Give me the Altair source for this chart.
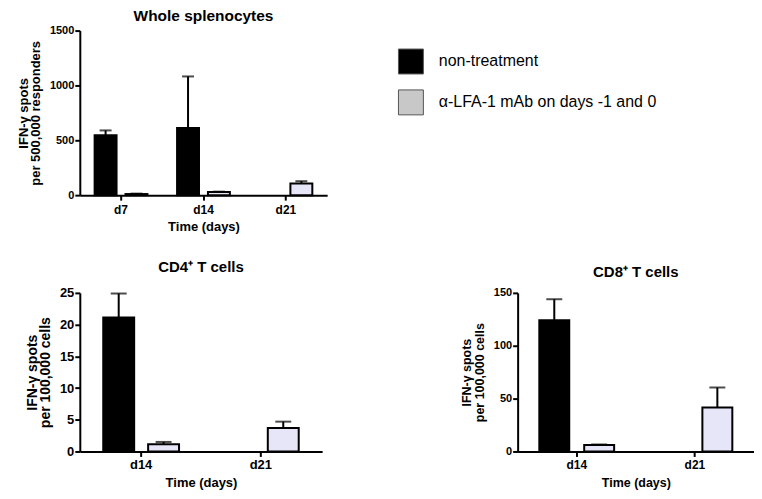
import altair as alt
import pandas as pd

GROUPS = ["non-treatment", "α-LFA-1 mAb on days -1 and 0"]
BAR_COLORS = ["#000000", "#E6E6F8"]
LEGEND_COLORS = ["#000000", "#C8C8C8"]

# Whole splenocytes
top_days = ["d7", "d14", "d21"]
top_nt = [545, 612, 0]
top_nt_err = [45, 470, 0]
top_lfa = [10, 28, 106]
top_lfa_err = [4, 4, 21]

# CD4+ T cells
cd4_days = ["d14", "d21"]
cd4_nt = [21.1, 0]
cd4_nt_err = [3.8, 0]
cd4_lfa = [1.15, 3.7]
cd4_lfa_err = [0.35, 1.0]

# CD8+ T cells
cd8_days = ["d14", "d21"]
cd8_nt = [124, 0]
cd8_nt_err = [20, 0]
cd8_lfa = [6, 41.5]
cd8_lfa_err = [0.6, 19]

FONT = "Liberation Sans"


def make_df(days, nt, nt_err, lfa, lfa_err):
    rows = []
    for d, v, e in zip(days, nt, nt_err):
        rows.append({"day": d, "group": GROUPS[0], "value": v, "err": e, "upper": v + e})
    for d, v, e in zip(days, lfa, lfa_err):
        rows.append({"day": d, "group": GROUPS[1], "value": v, "err": e, "upper": v + e})
    return pd.DataFrame(rows)


def panel(df, days, title, title_size, title_offset, ytitle, yvals, w, h, x_outer,
          off_inner, off_outer, cap, fs):
    x = alt.X("day:N", sort=days,
              scale=alt.Scale(domain=days, paddingInner=0, paddingOuter=x_outer),
              axis=alt.Axis(title="Time (days)", labelAngle=0, labelFontSize=fs["xl"],
                            labelPadding=fs["xlp"], titlePadding=fs["xtp"],
                            titleFontSize=fs["xt"]))
    xo = alt.XOffset("group:N", sort=GROUPS,
                     scale=alt.Scale(domain=GROUPS, paddingInner=off_inner, paddingOuter=off_outer))
    yaxis = alt.Axis(values=yvals, format="d", title=ytitle, labelFontSize=fs["yl"],
                     labelPadding=1, titlePadding=fs["ytp"], titleFontSize=fs["yt"],
                     titleLineHeight=fs["ylh"])
    yscale = alt.Scale(domain=[0, yvals[-1]], nice=False)
    base = alt.Chart(df)
    bars = base.mark_bar(stroke="black", strokeWidth=2).encode(
        x=x, xOffset=xo,
        y=alt.Y("value:Q", scale=yscale, axis=yaxis),
        fill=alt.Fill("group:N", scale=alt.Scale(domain=GROUPS, range=BAR_COLORS), legend=None),
    ).transform_filter("datum.value > 0")
    rules = base.mark_rule(color="black", strokeWidth=2).encode(
        x=x, xOffset=xo,
        y=alt.Y("value:Q", scale=yscale, axis=yaxis),
        y2="upper:Q",
    ).transform_filter("datum.err > 0")
    caps = base.mark_tick(color="black", thickness=2, size=cap, orient="horizontal").encode(
        x=x, xOffset=xo,
        y=alt.Y("upper:Q", scale=yscale, axis=yaxis),
    ).transform_filter("datum.err > 0")
    return alt.layer(bars, rules, caps).properties(
        width=w, height=h,
        title=alt.TitleParams(title, offset=title_offset, fontSize=title_size,
                              fontWeight="bold", font=FONT),
    )


top_fs = {"xl": 12, "xlp": 4, "xtp": 5, "xt": 13, "yl": 11, "yt": 13, "ytp": 7, "ylh": 12}
cd4_fs = {"xl": 13, "xlp": 2, "xtp": 5, "xt": 13, "yl": 13, "yt": 14, "ytp": 7, "ylh": 13}
cd8_fs = {"xl": 12, "xlp": 3, "xtp": 6, "xt": 12.5, "yl": 11, "yt": 12.5, "ytp": 7, "ylh": 13}

top = panel(make_df(top_days, top_nt, top_nt_err, top_lfa, top_lfa_err), top_days,
            "Whole splenocytes", 15.5, 0, ["IFN-γ spots", "per 500,000 responders"],
            [0, 500, 1000, 1500], 248, 165, 0.0, 0.29, 0.48, 12, top_fs)
cd4 = panel(make_df(cd4_days, cd4_nt, cd4_nt_err, cd4_lfa, cd4_lfa_err), cd4_days,
            "CD4⁺ T cells", 15, 12, ["IFN-γ spots", "per 100,000 cells"],
            [0, 5, 10, 15, 20, 25], 243, 159, 0.0125, 0.311, 0.489, 16, cd4_fs)
cd8 = panel(make_df(cd8_days, cd8_nt, cd8_nt_err, cd8_lfa, cd8_lfa_err), cd8_days,
            "CD8⁺ T cells", 15, 7, ["IFN-γ spots", "per 100,000 cells"],
            [0, 50, 100, 150], 237, 159, 0.0, 0.333, 0.483, 16, cd8_fs)

legend_df = pd.DataFrame({"group": GROUPS})
legend_host = alt.Chart(legend_df).mark_square(size=625, filled=True, opacity=1).encode(
    color=alt.Color("group:N", scale=alt.Scale(domain=GROUPS, range=LEGEND_COLORS),
                    legend=alt.Legend(title=None, orient="none", legendX=-120, legendY=18,
                                      symbolType="square", symbolSize=625, symbolOpacity=1,
                                      symbolStrokeColor="#555555", symbolStrokeWidth=1,
                                      labelFontSize=16, labelFont=FONT, labelFontWeight="normal",
                                      labelOffset=15, rowPadding=11, padding=0, labelLimit=400,
                                      labelColor="black"))
).transform_filter("false").properties(width=237, height=165)

chart = alt.concat(
    top, legend_host, cd4, cd8, columns=2,
    spacing={"row": 98, "column": 191}, bounds="flush", align="all",
).resolve_scale(
    x="independent", y="independent", xOffset="independent", color="independent"
).properties(
    padding={"left": 9, "top": 0, "right": 0, "bottom": 0}
).configure(font=FONT).configure_view(stroke=None).configure_axis(
    grid=False, domainColor="black", domainWidth=2, tickColor="black", tickWidth=2,
    tickSize=5, labelFont=FONT, labelFontWeight="bold", labelColor="black",
    titleFont=FONT, titleFontWeight="bold", titleColor="black",
)

chart.save("out.html", embed_options={"renderer": "svg", "actions": False})
